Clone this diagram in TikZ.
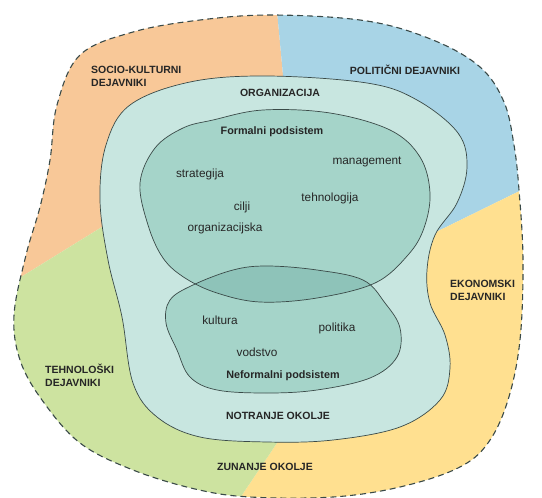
\documentclass[tikz,border=0pt]{standalone}
\usepackage{fontspec}
\setmainfont{Liberation Sans}
\definecolor{sociocol}{HTML}{F8C898}
\definecolor{politcol}{HTML}{A8D4E6}
\definecolor{ekonocol}{HTML}{FFE090}
\definecolor{tehnocol}{HTML}{CDE3A0}
\definecolor{orgcol}{HTML}{C8E6E0}
\definecolor{subcol}{HTML}{A5D4C9}
\definecolor{overcol}{HTML}{8EC3B9}
\definecolor{linecol}{HTML}{3A4A48}

\def\outerblob{plot[smooth cycle, tension=0.6] coordinates {(273,15) (367,21) (433,40) (480,67) (504,102) (514,145) (519,190) (523,260) (520,340) (508,400) (488,443) (458,468) (400,487) (333,497) (250,497) (195,489) (133,470) (80,443) (42,400) (20,360) (14,315) (26,255) (40,207) (50,160) (57,105) (80,55) (133,32) (200,20)}}
\def\orgblob{plot[smooth cycle, tension=0.6] coordinates {(267,76) (367,83) (417,100) (458,133) (467,167) (457,203) (435,235) (427,270) (430,303) (445,335) (450,368) (440,400) (400,427) (333,440) (267,442) (200,437) (157,417) (133,383) (122,317) (108,260) (100,200) (106,145) (130,105) (190,82)}}
\def\formalblob{plot[smooth cycle, tension=0.6] coordinates {(213,120) (263,110) (330,113) (390,130) (420,157) (430,193) (424,228) (408,255) (375,283) (317,298) (260,302) (217,293) (185,278) (163,258) (148,225) (140,183) (155,148) (183,128)}}
\def\informalblob{plot[smooth cycle, tension=0.6] coordinates {(193,285) (233,270) (267,266) (317,270) (363,280) (385,303) (400,328) (397,357) (370,378) (317,390) (267,393) (217,390) (190,377) (177,350) (166,323) (170,300)}}

\begin{document}
\begin{tikzpicture}[
x=1pt, y=-1pt,
factor/.style={font=\bfseries\fontsize{10.5}{13}\selectfont, align=left, inner sep=0pt, text=black!85},
title/.style={font=\bfseries\fontsize{10.8}{13}\selectfont, inner sep=0pt, text=black!85},
item/.style={font=\fontsize{11.8}{14}\selectfont, inner sep=0pt, text=black!85},
blob/.style={draw=linecol, line width=0.7pt}
]
\useasboundingbox (0,0) rectangle (542,498);

% zunanje okolje
\begin{scope}
\clip \outerblob;
\fill[sociocol] (0,0) -- (276,0) -- (283,75) -- (280,250) -- (110,222) -- (0,290) -- cycle;
\fill[politcol] (276,0) -- (542,0) -- (542,180) -- (430,235) -- (280,250) -- (283,75) -- cycle;
\fill[ekonocol] (542,180) -- (542,498) -- (240,498) -- (277,443) -- (280,250) -- (430,235) -- cycle;
\fill[tehnocol] (0,290) -- (110,222) -- (280,250) -- (277,443) -- (240,498) -- (0,498) -- cycle;
\end{scope}
\draw[linecol, line width=1.1pt, dash pattern=on 6pt off 4pt] \outerblob;

% organizacija
\fill[orgcol] \orgblob;
\fill[subcol] \formalblob;
\fill[subcol] \informalblob;
\begin{scope}
\clip \formalblob;
\fill[overcol] \informalblob;
\end{scope}
\draw[blob] \orgblob;
\draw[blob] \formalblob;
\draw[blob] \informalblob;

\node[factor, anchor=west] (socio) at (91,76) {SOCIO-KULTURNI\\DEJAVNIKI};
\node[factor] (polit) at (405,70) {POLITIČNI DEJAVNIKI};
\node[factor, anchor=west] (ekono) at (450,290) {EKONOMSKI\\DEJAVNIKI};
\node[factor, anchor=west] (tehno) at (45,375) {TEHNOLOŠKI\\DEJAVNIKI};
\node[factor] (zunanje) at (265,467) {ZUNANJE OKOLJE};
\node[factor] (org) at (280,93) {ORGANIZACIJA};
\node[factor] (notranje) at (278,416) {NOTRANJE OKOLJE};

\node[title] (formal) at (272,132) {Formalni podsistem};
\node[item] (strat) at (200,174) {strategija};
\node[item] (mgmt) at (367,162) {management};
\node[item] (tehn) at (330,198) {tehnologija};
\node[item] (cilji) at (242,207) {cilji};
\node[item] (orgst) at (225,228) {organizacijska};

\node[item] (kult) at (220,320) {kultura};
\node[item] (polk) at (337,328) {politika};
\node[item] (vods) at (257,352) {vodstvo};
\node[title] (informal) at (283,376) {Neformalni podsistem};
\end{tikzpicture}
\end{document}
